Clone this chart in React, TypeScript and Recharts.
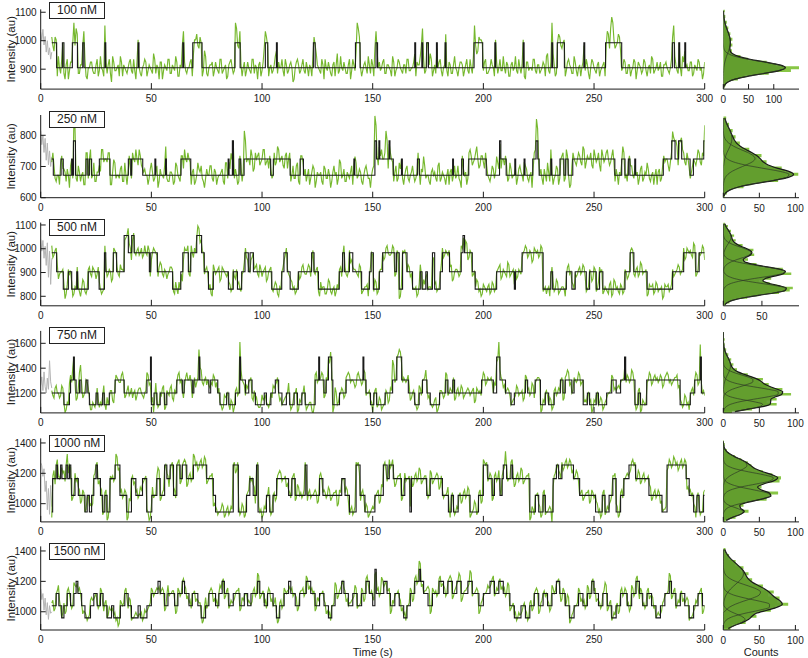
import { ComposedChart, Line, Area, XAxis, YAxis } from "recharts"

const FONT = '"Liberation Sans", Arial, Helvetica, sans-serif'
const INK = "#1a1a1a"
const GREEN = "#76b82e"
const GREY = "#b4b4b4"
const BAR_GREEN = "#88c645"
const FIT_GREEN = "#5f9a2c"
const COMP_LINE = "#2e3a26"

const timeTicks = [0, 50, 100, 150, 200, 250, 300]
const labels = ["100 nM", "250 nM", "500 nM", "750 nM", "1000 nM", "1500 nM"]

// ---------- 100 nM ----------
const r1Domain = [830, 1110]
const r1Ticks = [900, 1000, 1100]
const r1Levels = [905, 993]
const r1Steps: [number, number][] = [
    [5, 1], [7.2, 0], [9.8, 1], [10.5, 0], [14.3, 1], [16.6, 0], [19, 1], [19.6, 0], [29, 1], [29.4, 0],
    [44, 1], [44.4, 0], [64.2, 1], [64.6, 0], [68.7, 1], [72.9, 0], [87.8, 1], [90.1, 0], [101.5, 1], [102.6, 0],
    [106.5, 1], [106.9, 0], [123.2, 1], [124, 0], [142.2, 1], [144.3, 0], [151.5, 1], [152.2, 0], [169, 1], [169.4, 0],
    [172.2, 1], [172.6, 0], [174.4, 1], [175.2, 0], [178.8, 1], [179.2, 0], [182.7, 1], [183.1, 0], [195.8, 1], [199.7, 0],
    [205.2, 1], [205.6, 0], [218, 1], [218.4, 0], [230.9, 1], [231.3, 0], [233.4, 1], [236.6, 0], [245.4, 1], [245.8, 0],
    [255.2, 1], [262.5, 0], [285.4, 1], [286.3, 0], [288.3, 1], [288.7, 0], [291, 1], [291.4, 0], [300, 0],
]
const r1Grey = [1030, 1000, 1040, 985, 1015, 960, 1000, 950, 975, 935, 960]
// noise on whole seconds (t = 5, 6, ...) and half seconds (t = 5.5, 6.5, ...), in units of the row's noise unit
const r1Noise = [
    2, -3, 1, 4, -2, 0, -4, 3, -1, 2, 7, 5, -2, 1, -1, 3, -4, 0, 2, -2,
    1, -3, 4, -1, 6, -2, 3, -5, 2, -1, 1, 4, -3, 0, -2, 2, -1, 3, -4, 1,
    -2, 0, 3, -3, 1, -1, 5, -2, 0, 2, -4, 1, -1, 3, -2, 0, 4, -3, 1, 8,
    2, -2, 0, 3, -4, 1, -1, 2, -3, 6, -2, 0, 1, -3, 2, -1, 3, -2, 0, -4,
    1, 3, -2, 7, -1, 4, -3, 2, -1, 0, -2, 3, 1, -4, 2, -1, 7, 2, -3, 1,
    -1, 4, -2, 0, 3, -3, 1, -1, 2, -5, 0, 3, -2, 1, -1, 2, -3, 0, 4, 8,
    1, -1, 3, -4, 0, 2, -2, 1, -3, 5, -1, 0, 2, -2, 1, -4, 3, -1, 7, 2,
    -3, 1, 0, 4, -2, 1, 7, -3, 2, 0, 3, -2, 1, -1, 4, -3, 0, 2, -1, 1,
    -2, 3, -1, 0, -4, 2, 1, 8, 3, -1, 0, 5, -3, 1, -2, 2, -1, 0, 3, -3,
    1, -2, 4, -1, 0, 2, -3, 1, -1, 3, -2, 6, -4, 2, 1, -1, 3, -2, 0, 1,
    -3, 2, 0, -1, 4, -2, 1, -3, 2, 0, -1, 3, -2, 1, -4, 2, 0, -1, 3, -2,
    1, -1, 2, -3, 5, -2, 7, 1, -2, 3, -1, 0, -3, 2, 1, -2, 4, -1, 0, -3,
    2, -1, 1, -4, 3, 0, -2, 2, -1, 1, -3, 4, -2, 9, 1, -1, 3, -3, 0, 2,
    -2, 1, -1, 3, -4, 2, 0, -1, 2, -3, 1, 4, -2, 0, -1, 2, -3, 1, 0, -2,
    3, 6, 1, -2, 0, 4, -3, 1, -1, 2, -2, 0, 3, -1, -4, 2, 1, -2, 0, 1,
]
const r1NoiseHalf = [
    -1, 2, -3, 0, 3, -2, 1, -4, 2, 0, -1, 3, -2, 1, 4, -3, 0, 2, -1, -2,
    3, -1, 0, -3, 2, 1, -2, 4, -1, 0, -3, 2, 1, -1, 0, 3, -2, -1, 2, 0,
    -3, 1, 2, -1, 0, -2, 3, 1, -4, 2, -1, 0, 3, -2, 1, -1, 2, -3, 0, 4,
    -1, 0, 2, -3, 1, 3, -2, 0, -1, 4, -3, 1, 2, -1, 0, -2, 3, -1, 1, -3,
    2, 0, -1, 5, -2, 1, 0, -3, 2, -1, 3, -2, 0, 1, -3, 2, 4, -1, 0, -2,
    1, -3, 2, 0, -1, 3, -2, 1, 0, -4, 2, 1, -1, 3, -2, 0, 1, -3, 2, 5,
    0, -2, 1, 3, -1, 0, -3, 2, 1, -2, 4, -1, 0, -2, 3, -1, 1, -3, 5, 0,
    -1, 2, -2, 1, 3, -3, 4, 0, -1, 2, -2, 1, 0, -3, 2, -1, 3, 0, -2, 1,
    3, -1, 0, 2, -3, 1, 4, 5, -2, 0, 1, 3, -1, -2, 0, 3, -3, 1, -1, 2,
    -2, 1, 0, -3, 2, 1, -1, 3, -2, 0, 4, -1, -3, 1, 0, 2, -2, -1, 3, 0,
    1, -2, 3, -1, 0, 2, -3, 1, -1, 4, -2, 0, 1, -3, 2, -1, 0, 3, -1, 1,
    -2, 0, 1, 4, -1, 2, 5, -3, 0, 2, -2, 1, -1, 3, 0, -2, 2, -3, 1, 0,
    -1, 3, -2, 0, 2, -1, 1, -3, 0, 2, -1, 3, 5, 7, -2, 0, 2, -1, 3, -2,
    1, -3, 0, 2, -1, 1, -2, 3, -1, 0, -2, 3, -1, 2, 0, -3, 1, 2, -1, 0,
    2, 4, -1, 0, -3, 2, 0, -1, 2, -3, 1, -1, 2, 0, -2, 1, 3, -1, 0, 2,
]
const r1Counts = [2, 5, 6, 29, 42, 90, 134, 151, 104, 86, 49, 34, 15, 17, 11, 18, 12, 18, 10, 14, 7, 10, 4, 7, 2, 4, 1, 3]
const r1Comps = [
    [0.8, 2.9, 9.3, 23.3, 48.3, 80.8, 110, 122, 110, 80.8, 48.3, 23.3, 9.3, 2.9, 0.8, 0.2, 0, 0, 0, 0, 0, 0, 0, 0, 0, 0, 0, 0],
    [0, 0, 0, 0.1, 0.2, 0.3, 0.6, 1.1, 1.9, 3, 4.6, 6.4, 8.5, 10.6, 12.3, 13.6, 14, 13.6, 12.3, 10.6, 8.5, 6.4, 4.6, 3, 1.9, 1.1, 0.6, 0.3],
]

// ---------- 250 nM ----------
const r2Domain = [600, 865]
const r2Ticks = [600, 700, 800]
const r2Levels = [672, 724, 782]
const r2Steps: [number, number][] = [
    [5, 1], [5.7, 0], [9.2, 1], [10.2, 0], [14, 1], [14.5, 0], [14.8, 2], [15.7, 0], [20.5, 1], [21.3, 0],
    [22, 1], [23, 0], [26.5, 1], [31.3, 0], [39.6, 1], [40.7, 0], [41.1, 1], [46.1, 0], [51.6, 1], [52, 0],
    [56.4, 1], [56.8, 0], [63.4, 1], [67.8, 0], [84.7, 1], [85.1, 0], [86.6, 2], [87.1, 0], [89.6, 1], [90.4, 0],
    [91.9, 1], [103.9, 0], [105.1, 1], [112.7, 0], [117.2, 1], [118.7, 0], [141.5, 1], [141.9, 0], [151, 2], [151.7, 1],
    [152.8, 2], [153.2, 1], [157.4, 2], [157.8, 1], [159.3, 0], [163, 1], [163.4, 0], [170.2, 1], [171.1, 0], [186.1, 1],
    [186.5, 0], [190.2, 1], [191, 0], [193.4, 1], [201.3, 0], [207.3, 2], [207.9, 1], [210.3, 0], [214.2, 1], [214.6, 0],
    [218.4, 1], [218.8, 0], [222.3, 1], [223.8, 2], [224.6, 1], [225.2, 0], [230.5, 1], [230.9, 0], [234.6, 1], [236.4, 0],
    [237.2, 1], [238.3, 0], [240.4, 1], [259.4, 0], [262.5, 1], [264, 0], [265.5, 1], [266.2, 0], [268.4, 1], [268.8, 0],
    [281.3, 1], [285.1, 2], [286.6, 1], [288.2, 2], [289.6, 1], [293.4, 0], [294.9, 1], [299.6, 2], [300, 2],
]
const r2Grey = [815, 770, 800, 745, 790, 720, 775, 705, 750, 700, 730]
const r2Noise = [
    -1, 3, -2, 0, 4, -3, 1, 2, -4, 0, 6, -1, 3, -2, 1, -3, 2, 0, -1, 4,
    -2, 1, -4, 3, 0, -1, 2, -3, 5, -1, 0, 2, -2, 4, -3, 1, -1, 0, 3, -2,
    1, -3, 2, 0, -1, 4, -2, 1, -4, 2, 0, 3, -1, -2, 1, -3, 4, 0, -2, 1,
    3, -1, 0, -3, 2, -2, 4, 1, -1, -4, 2, 0, 3, -2, 1, -1, 0, 2, -3, 4,
    -1, 7, 0, 2, -3, 1, -2, 9, -1, 0, 3, -4, 2, 1, -2, 0, 3, -1, -3, 2,
    0, -2, 4, -1, 1, -3, 2, 0, -2, 3, -1, 4, -3, 1, 0, -2, 2, -1, 3, -4,
    1, 0, -2, 3, -1, 2, -4, 1, 0, -3, 5, -1, 2, -2, 0, 1, -3, 6, -1, 2,
    -2, 0, 3, -1, -4, 2, 8, 1, -2, 3, 0, 9, -3, 2, -1, 1, -2, 4, 0, -3,
    2, -1, 0, 3, -2, 1, -4, 2, 6, -1, 0, -3, 2, 1, -2, 4, -1, 0, -3, 2,
    1, -2, 3, 0, -1, -4, 2, 1, -1, 3, -2, 0, 4, -3, 1, -1, 2, 0, -2, 3,
    -1, 6, 2, -3, 0, 1, -2, 4, -1, 0, -3, 2, 1, -2, 3, -1, 0, -4, 2, 7,
    -1, 2, -3, 0, 4, -2, 1, -1, 3, -3, 0, 2, -1, 1, -4, 3, 0, -2, 2, -1,
    4, -3, 1, 0, -2, 3, -1, 2, -4, 1, 0, 3, -2, 1, -1, 2, -3, 0, 4, -1,
    -2, 1, 3, -1, 0, -3, 2, -2, 1, 4, -1, 0, -3, 2, 1, -2, 3, -1, 0, -4,
    2, 1, 6, -2, 0, 3, -1, 2, -3, 1, 0, -2, 3, -1, 2, 5, -2, 0, 1, -1,
]
const r2NoiseHalf = [
    2, -1, 0, -3, 1, 2, -2, 0, 3, -1, 4, -2, 1, 0, -3, 2, -1, 3, 0, -2,
    1, -2, 3, -1, 0, 2, -3, 1, 4, 0, -1, 3, -2, 0, 1, -3, 2, -1, 0, 3,
    -2, 1, 0, -3, 2, 1, -1, 3, -2, 0, -1, 4, -2, 1, 0, -2, 3, -1, 1, -3,
    0, 2, -1, 1, -3, 0, 2, 3, -2, -1, 0, 3, -1, 2, -3, 0, 1, -2, 4, -1,
    2, 5, -1, 0, -2, 3, 1, 6, 0, -2, 1, -3, 0, 2, -1, 3, -2, 0, 1, -1,
    2, -1, 3, 0, -2, 1, -3, 2, 0, -1, 3, -2, 1, -1, 2, 0, -3, 1, 2, -2,
    0, 1, -3, 2, -1, 0, -2, 3, 1, -1, 4, 0, -2, 1, -1, 3, -2, 4, 0, 1,
    -3, 2, 1, -1, 0, 3, 5, -2, 1, 0, 2, 6, -1, 0, -2, 3, -1, 2, -1, 0,
    3, -2, 1, 0, -1, 2, -3, 1, 3, 0, -2, 1, 0, -1, 3, -2, 1, -1, 0, -3,
    2, 0, -1, 3, -2, 1, 0, -3, 2, 1, -1, 2, 0, -2, 1, -3, 3, -1, 0, 2,
    1, 4, -1, 0, -2, 3, -1, 2, 0, -3, -1, 3, 0, -1, 2, -2, 1, -3, 3, 4,
    0, -1, 2, -2, 1, 3, -3, 0, 2, -1, 1, -2, 3, 0, -3, 2, -1, 0, 1, -2,
    3, -1, 0, 2, -3, 1, 0, -2, 3, -1, 2, 0, -1, 3, -2, 0, 1, -1, 2, 0,
    -1, 3, 0, -2, 1, -1, 3, -1, 0, 2, -2, 1, 0, -3, 2, -1, 1, 0, -2, -1,
    3, 0, 4, -1, 1, 2, -2, 0, -1, 3, -1, 0, 2, -2, 1, 3, -1, 2, 0, 1,
]
const r2Counts = [2, 5, 7, 28, 39, 76, 86, 104, 85, 81, 56, 60, 47, 53, 34, 36, 20, 23, 12, 17, 9, 13, 5, 8, 2, 4]
const r2Comps = [
    [0.9, 3.2, 9.5, 22.4, 43.3, 68.3, 87.4, 91.1, 77.3, 53.1, 29.9, 13.6, 5.1, 1.5, 0.4, 0, 0, 0, 0, 0, 0, 0, 0, 0, 0, 0],
    [0, 0, 0, 0, 0.3, 1.1, 2.8, 6.4, 12.6, 21.6, 31.7, 40.3, 44, 41.3, 33.7, 23.5, 14.3, 7.5, 3.4, 1.3, 0.4, 0.1, 0, 0, 0, 0],
    [0, 0, 0, 0, 0, 0, 0, 0, 0, 0, 0.6, 1.2, 2.1, 3.5, 5.2, 7.3, 9.3, 10.9, 11.9, 11.9, 10.9, 9.3, 7.3, 5.2, 3.5, 2.1],
]

// ---------- 500 nM ----------
const r3Domain = [760, 1110]
const r3Ticks = [800, 900, 1000, 1100]
const r3Levels = [830, 903, 983, 1056]
const r3Steps: [number, number][] = [
    [5, 2], [7.2, 1], [10.2, 0], [12.5, 1], [14, 0], [16.3, 1], [16.7, 0], [21.5, 1], [26.4, 0], [28.8, 2],
    [29.4, 1], [32.8, 2], [34.3, 1], [37.7, 3], [39.6, 2], [41.1, 3], [42.2, 2], [49.1, 1], [49.7, 2], [52.7, 1],
    [59.6, 0], [63.3, 1], [64.2, 2], [66.7, 1], [67.8, 2], [70.5, 3], [72.7, 2], [73.9, 1], [75.8, 0], [78, 1],
    [84.8, 0], [87, 1], [88.9, 0], [90.8, 1], [92.3, 2], [93.8, 1], [94.6, 2], [96.1, 1], [104.4, 0], [108.9, 1],
    [109.9, 2], [111.4, 1], [112.7, 0], [116.4, 1], [122.4, 2], [123.5, 1], [125.5, 0], [134.9, 1], [136.4, 2], [137.2, 1],
    [139.5, 2], [141, 1], [145, 0], [148.5, 1], [149.3, 2], [150.3, 0], [153, 1], [154.5, 2], [160, 1], [160.8, 2],
    [162, 0], [163.5, 2], [165.5, 1], [168, 0], [171.5, 1], [172.3, 0], [174, 1], [174.7, 0], [177, 2], [178, 0],
    [180.5, 1], [181.5, 2], [184.7, 1], [190, 2], [190.8, 3], [191.5, 2], [195, 1], [196.3, 0], [206, 1], [214, 0],
    [214.5, 1], [217.5, 2], [227, 0], [230.5, 1], [231.3, 0], [237.5, 1], [240, 0], [241.5, 1], [246.5, 0], [248, 1],
    [251, 0], [252.5, 1], [254, 0], [264, 1], [266.3, 2], [268, 1], [274, 0], [285.5, 1], [290.5, 2], [296, 1],
    [297.5, 2], [300, 2],
]
const r3Grey = [1040, 990, 1035, 960, 1010, 930, 1025, 880, 990, 850, 960]
const r3Noise = [
    3, -1, 2, -3, 0, 1, -4, 2, -1, 3, -2, 0, 1, -3, 4, -1, 0, 2, -2, 1,
    -3, 2, 0, -1, 3, -2, 1, -4, 2, 0, -1, 3, 1, -2, 0, 4, -3, 1, -1, 2,
    0, -2, 3, -1, 1, -3, 2, 0, -2, 4, -1, 1, -3, 0, 2, -1, 3, -2, 0, -4,
    2, 1, -1, 3, -2, 0, 4, -3, 1, -1, 2, 0, -2, 3, -1, 1, -4, 2, 0, -2,
    3, -1, 1, -3, 2, 0, -1, 4, -2, 1, -3, 0, 2, -1, 3, -2, 1, -4, 0, 2,
    -1, 3, -2, 1, 0, -3, 2, -1, 4, 0, -2, 1, -3, 2, 0, -1, 3, -2, 1, -1,
    2, -3, 0, 1, -2, 4, -1, 0, -3, 2, 1, -2, 3, -1, 0, -4, 2, 1, -1, 3,
    -2, 0, 1, -3, 2, -1, 4, -2, 0, 1, -3, 2, 0, -1, 3, -2, 1, -4, 2, 0,
    -1, 3, -2, 1, 0, -3, 2, -1, 4, -2, 0, 1, -3, 2, -1, 0, 3, -2, 1, -1,
    2, -4, 0, 1, -2, 3, -1, 5, -3, 1, -2, 0, 4, -1, -3, 2, 0, 1, -2, 3,
    -1, 0, 2, -3, 1, -1, 4, -2, 0, 2, -3, 1, -1, 0, 3, -2, 1, -4, 2, 0,
    -2, 3, -1, 1, 0, -3, 2, -1, 4, -2, 0, 1, -3, 2, -1, 3, 0, -2, 1, -1,
    3, -2, 0, 1, -4, 2, -1, 3, 0, -2, 1, -1, 2, -3, 4, 0, -1, 2, -2, 1,
    -3, 0, 2, -1, 1, -2, 4, -1, 0, -3, 2, 1, -2, 3, -1, 0, -4, 2, 1, -1,
    2, -2, 0, 3, -1, 1, -3, 2, 0, -1, 4, -2, 1, -1, 3, -3, 0, 2, -1, 1,
]
const r3NoiseHalf = [
    -2, 1, 3, -1, 0, 2, -2, 1, 0, -3, 1, 2, -1, 0, 3, -2, 1, -1, 2, 0,
    -1, 3, -2, 0, 2, -1, 0, -3, 1, 2, -2, 1, 0, -1, 3, 2, -2, 0, 1, -1,
    2, -1, 0, 3, -2, 0, 1, -1, 2, 3, -2, 0, -1, 2, 1, -2, 0, 3, -1, -3,
    1, 3, -2, 0, 2, -1, 3, -2, 0, 1, -1, 2, -3, 1, 0, 2, -3, 1, -1, 0,
    2, 0, -2, 1, 3, -1, 0, 2, -3, 0, -2, 1, 3, -2, 1, 0, 2, -3, 1, 0,
    1, 2, -3, 0, 2, -1, 1, -2, 3, 1, -1, 0, -2, 3, -1, 1, 2, -3, 0, 1,
    -1, 3, 1, -2, 0, 3, -2, 1, -1, 0, 2, -1, 2, -2, 1, -3, 1, 0, -2, 2,
    -1, 1, 2, -2, 0, -1, 3, -1, 1, 0, -2, 3, -1, 0, 2, -1, 0, -3, 1, 1,
    0, 2, -1, 0, 1, -2, 3, 0, 2, -1, 1, 0, -2, 3, 0, -1, 2, -1, 0, 1,
    3, -3, 1, 0, -1, 2, 0, 4, -2, 0, -1, 1, 3, 0, -2, 1, -1, 2, -1, 2,
    0, 1, 3, -2, 0, -2, 3, -1, 1, 1, -2, 0, -2, 1, 2, -1, 0, -3, 1, 1,
    -1, 2, 0, -2, 1, -2, 3, 0, 3, -1, 1, 0, -2, 3, 0, 2, -1, -1, 2, 0,
    2, -1, 1, 0, -3, 1, 0, 2, 1, -1, 0, -2, 3, -2, 3, 1, -2, 1, -1, 0,
    -2, 1, 1, -2, 2, -1, 3, 0, 1, -2, 1, 2, -1, 2, 0, 1, -3, 1, 2, 0,
    1, -1, 1, 2, 0, 2, -2, 1, 1, -2, 3, -1, 0, 0, 2, -2, 1, 1, 0, 2,
]
const r3Counts = [3, 8, 12, 31, 46, 72, 86, 90, 70, 60, 46, 62, 60, 88, 76, 77, 48, 43, 24, 32, 25, 40, 33, 39, 22, 25, 11, 16, 8, 14, 6, 10, 4, 6, 2]
const r3Comps = [
    [2.1, 6, 14.1, 28.3, 47.6, 67.5, 80.2, 80.2, 67.5, 47.6, 28.3, 14.1, 6, 2.1, 0.6, 0.1, 0, 0, 0, 0, 0, 0, 0, 0, 0, 0, 0, 0, 0, 0, 0, 0, 0, 0, 0],
    [0, 0, 0, 0, 0, 0, 0, 1.4, 4.3, 10.8, 23, 40.4, 60.4, 75.7, 79.7, 70.6, 52.4, 33, 17.3, 7.6, 2.9, 0.9, 0.2, 0, 0, 0, 0, 0, 0, 0, 0, 0, 0, 0, 0],
    [0, 0, 0, 0, 0, 0, 0, 0, 0, 0, 0, 0, 0, 0, 0.2, 0.7, 1.9, 4.9, 10.3, 18.2, 27.2, 34.1, 35.9, 31.8, 23.6, 14.8, 7.8, 3.4, 1.3, 0.4, 0, 0, 0, 0, 0],
    [0, 0, 0, 0, 0, 0, 0, 0, 0, 0, 0, 0, 0, 0, 0, 0, 0, 0, 0, 0, 0.2, 0.4, 1, 1.9, 3.3, 5.1, 7.1, 8.8, 9.9, 9.9, 8.8, 7.1, 5.1, 3.3, 1.9],
]

// ---------- 750 nM ----------
const r4Domain = [1040, 1700]
const r4Ticks = [1200, 1400, 1600]
const r4Levels = [1105, 1200, 1305, 1490]
const r4Steps: [number, number][] = [
    [5, 1], [10.5, 0], [13, 1], [13.5, 2], [14.8, 3], [15.2, 2], [16, 1], [17.5, 2], [18.2, 1], [20.5, 2],
    [21.3, 1], [22, 0], [25, 1], [25.8, 0], [28, 1], [28.7, 0], [31, 1], [33.6, 2], [37.7, 1], [48, 2],
    [49.6, 3], [50, 0], [51.2, 1], [52.5, 0], [54, 1], [56, 0], [57, 1], [61.5, 2], [64, 1], [64.8, 2],
    [68.5, 1], [69.2, 2], [71.5, 3], [71.9, 2], [76, 1], [76.8, 2], [80, 1], [81, 0], [84, 1], [85, 0],
    [88, 1], [89.9, 3], [90.3, 2], [92.5, 1], [94, 2], [95.5, 1], [97, 0], [101, 1], [102, 0], [104, 1],
    [106, 2], [107.5, 1], [109, 0], [111, 1], [112.5, 0], [114.5, 1], [116, 0], [118, 1], [119.5, 0], [124, 2],
    [125.6, 3], [126, 2], [128, 1], [129, 2], [130, 3], [131.5, 2], [132, 0], [135, 1], [138, 2], [145.6, 3],
    [146, 2], [147, 1], [149, 0], [150.5, 1], [151.8, 0], [155.6, 1], [159, 2], [160.9, 3], [163.1, 2], [166.1, 1],
    [169, 0], [171, 1], [172.5, 2], [174.5, 1], [176, 0], [180.2, 1], [183, 2], [184, 1], [186.2, 2], [187, 1],
    [199.2, 2], [204.5, 1], [206, 3], [207.5, 2], [210, 1], [212.5, 0], [214, 1], [219, 2], [220, 1], [223.4, 2],
    [225.8, 0], [228, 1], [229.5, 0], [232, 1], [234.8, 2], [236, 1], [237, 2], [240, 1], [241, 2], [245.1, 0],
    [247, 1], [248, 0], [251, 1], [252, 0], [255.7, 1], [258, 2], [260, 1], [262, 2], [263.8, 3], [264.3, 2],
    [268.5, 0], [270, 1], [271, 0], [273.8, 2], [288.9, 0], [293.5, 1], [295.5, 2], [298, 3], [298.5, 1], [300, 1],
]
const r4Grey = [1260, 1330, 1220, 1370, 1250, 1200, 1320, 1230, 1460, 1290, 1240]
const r4Noise = [
    1, -2, 3, 0, -1, 2, -3, 1, 4, -1, 0, -3, 2, 6, -2, 1, -1, 3, -2, 0,
    -3, 2, 1, -1, 0, 3, -2, 1, -4, 2, 0, -1, 3, -2, 1, -1, 2, 0, -3, 1,
    2, -1, 0, 3, -2, 1, -3, 4, -1, 0, 2, -2, 1, -1, 3, -3, 0, 2, -1, 1,
    -2, 3, 0, -1, 2, -3, 1, 5, -1, 0, -2, 3, -1, 2, -3, 0, 1, -2, 4, -1,
    0, 2, -3, 1, -1, 6, 0, -2, 3, -1, 1, -3, 2, 0, -1, 4, -2, 1, -1, 0,
    3, -2, 1, -3, 0, 2, -1, 4, -2, 1, 0, -3, 2, -1, 3, -2, 0, 1, -4, 2,
    -1, 0, 3, -2, 1, -1, 2, -3, 7, 0, -1, 2, -2, 1, 3, -1, 0, -3, 2, 1,
    -2, 4, -1, 0, 2, -3, 1, -1, 3, -2, 0, 1, -4, 2, 8, -1, 0, 3, -2, 1,
    -1, 2, -3, 0, 1, -2, 3, -1, 0, 4, -2, 1, -1, 2, -3, 0, 1, -2, 3, -1,
    2, 0, -3, 1, -1, 3, -2, 0, 2, -1, 1, -4, 2, 0, -1, 3, -2, 1, 0, -1,
    4, -2, 6, 1, -3, 0, 2, -1, 1, -2, 3, -1, 0, -3, 2, 1, -1, 4, -2, 0,
    1, -3, 2, 0, -1, 3, -2, 1, -1, 2, 0, -3, 1, 4, -2, 0, 1, -1, 3, -2,
    0, 2, -1, 1, -3, 2, -1, 0, 3, -2, 1, -1, 0, 2, -4, 1, 3, -1, 0, -2,
    2, -1, 4, 0, -2, 1, -3, 2, 0, -1, 3, -2, 1, 0, -1, 2, -3, 1, 3, -1,
    -2, 0, 1, -3, 2, -1, 4, 0, -2, 1, -1, 3, -2, 5, 0, -1, 2, -3, 1, 0,
]
const r4NoiseHalf = [
    -1, 2, 0, -2, 3, 1, -2, 0, 2, 5, -1, -2, 3, 4, -1, 0, 2, -2, 1, -1,
    2, -1, 0, 3, -2, 0, 1, -3, 2, 1, -1, 2, 0, -1, 3, 0, -2, 1, -1, 2,
    0, -2, 1, 2, -1, 3, -2, 2, 0, -1, 3, -1, 0, 2, -2, 1, -1, 3, 0, -2,
    1, 0, 2, -2, 1, -1, 3, 4, -2, 1, 0, 2, -2, 1, -1, 2, 0, -1, 3, 0,
    -2, 1, -1, 2, 0, 4, -1, -1, 2, 0, -2, 1, 3, -1, 0, 2, -1, 0, 1, -2,
    2, -1, 0, -2, 1, 3, 0, 2, -1, 0, 2, -2, 1, 0, 2, -1, 1, -2, -1, 3,
    0, 1, 2, -1, 0, -2, 3, -1, 5, 1, 0, 1, -1, 2, 2, 0, -1, -2, 3, 0,
    -1, 3, 0, 1, 1, -2, 2, 0, 2, -1, 1, 0, -3, 1, 6, 0, 1, 2, -1, 0,
    0, 3, -2, 1, 0, -1, 2, 0, 1, 3, -1, 0, 0, 3, -2, 1, 0, -1, 2, 0,
    1, 1, -2, 2, 0, 2, -1, 1, 1, 0, 2, -3, 1, 1, 0, 2, -1, 0, 1, 0,
    3, -1, 4, 0, -2, 1, 1, 0, 2, -1, 2, 0, 1, -2, 1, 2, 0, 3, -1, 1,
    0, -2, 1, 1, 0, 2, -1, 2, 0, 1, 1, -2, 2, 3, -1, 1, 0, 0, 2, -1,
    1, 1, 0, 2, -2, 1, 0, 1, 2, -1, 2, 0, 1, 1, -3, 2, 2, 0, 1, -1,
    1, 0, 3, 1, -1, 2, -2, 1, 1, 0, 2, -1, 2, 1, 0, 1, -2, 2, 2, 0,
    -1, 1, 2, -2, 1, 0, 3, 1, -1, 2, 0, 2, -1, 4, 1, 0, 1, -2, 2, 1,
]
const r4Counts = [12, 40, 50, 74, 60, 74, 68, 94, 78, 82, 60, 63, 49, 55, 34, 34, 17, 19, 9, 14, 7, 11, 4, 7, 2, 4, 1, 2, 0, 2, 0, 1, 0]
const r4Comps = [
    [16, 33.4, 50.2, 54.5, 42.6, 23.9, 9.7, 2.9, 0.6, 0.1, 0, 0, 0, 0, 0, 0, 0, 0, 0, 0, 0, 0, 0, 0, 0, 0, 0, 0, 0, 0, 0, 0, 0],
    [0.3, 1.2, 4, 10.5, 23.1, 42.1, 62.4, 76.1, 76.1, 62.4, 42.1, 23.1, 10.5, 4, 1.2, 0.3, 0, 0, 0, 0, 0, 0, 0, 0, 0, 0, 0, 0, 0, 0, 0, 0, 0],
    [0, 0, 0, 0, 0, 0, 0.6, 2.1, 5.7, 12.4, 22.7, 33.6, 41, 41, 33.6, 22.7, 12.4, 5.7, 2.1, 0.6, 0.2, 0, 0, 0, 0, 0, 0, 0, 0, 0, 0, 0, 0],
    [0, 0, 0, 0, 0, 0, 0, 0, 0, 0, 0.5, 1, 1.8, 2.9, 4.4, 6.1, 7.8, 9.1, 9.9, 9.9, 9.1, 7.8, 6.1, 4.4, 2.9, 1.8, 1, 0.5, 0.3, 0.1, 0, 0, 0],
]

// ---------- 1000 nM ----------
const r5Domain = [880, 1430]
const r5Ticks = [1000, 1200, 1400]
const r5Levels = [945, 1055, 1165, 1255]
const r5Steps: [number, number][] = [
    [5, 0], [5.4, 2], [7, 3], [7.6, 2], [9, 3], [9.6, 2], [11.5, 3], [12.2, 2], [13, 3], [13.6, 2],
    [14, 1], [15.5, 2], [17, 1], [20, 0], [21, 1], [22, 0], [23, 1], [24, 2], [25, 3], [25.6, 2],
    [27, 1], [28, 0], [29, 1], [30, 0], [31.3, 2], [33.6, 3], [35.8, 1], [38.9, 0], [41, 2], [43, 1],
    [46, 2], [47.9, 0], [50.2, 1], [52.5, 2], [54, 1], [56, 3], [57, 2], [58.5, 3], [60, 1], [61.5, 3],
    [63, 2], [64, 3], [66, 2], [69, 3], [75, 2], [78, 1], [79, 0], [87, 3], [89.3, 0], [93, 1],
    [94.5, 2], [96, 1], [97.5, 3], [98.2, 0], [102, 1], [103.5, 0], [105, 1], [106.6, 2], [112, 1], [113.5, 2],
    [115, 1], [119.5, 3], [120.3, 1], [126, 2], [127.5, 1], [136, 2], [137.5, 1], [139.5, 0], [142.5, 3], [144.3, 1],
    [146.5, 0], [151, 1], [154.8, 3], [156.5, 2], [157.5, 3], [159.3, 2], [163, 1], [164.5, 2], [166.8, 0], [167.5, 2],
    [174.4, 1], [176, 2], [181.5, 1], [184.2, 0], [185.5, 1], [186.5, 0], [188.6, 1], [194, 0], [197.8, 1], [200, 3],
    [202, 2], [204, 1], [205, 2], [207.5, 1], [208.5, 2], [209, 3], [210.5, 2], [212.5, 3], [213.2, 2], [221, 0],
    [223.5, 1], [225, 0], [227, 1], [228, 0], [231.5, 2], [233, 3], [234, 2], [235.5, 3], [240.7, 2], [243.5, 1],
    [250.7, 0], [253.7, 1], [255, 0], [256.8, 1], [258.5, 2], [260, 0], [262, 1], [263.5, 2], [265.8, 3], [268.8, 2],
    [274.8, 1], [280.7, 0], [283, 3], [291.6, 2], [293, 1], [295, 0], [296.5, 1], [297.5, 0], [299.5, 1], [300, 1],
]
const r5Grey = [1270, 1250, 1180, 1230, 1080, 1150, 960, 1100, 930, 1120, 980]
const r5Noise = [
    -2, 3, 0, 1, -3, 2, -1, 4, 0, -2, 1, -1, 3, -3, 2, 0, -1, 2, -4, 1,
    0, -2, 3, -1, 1, -3, 2, 0, -1, 4, -2, 1, -1, 2, -3, 5, 0, -2, 1, -1,
    3, -2, 0, 1, -3, 2, -1, 0, 4, -2, 1, -1, 2, -3, 0, 3, -1, 1, -2, 0,
    2, -3, 1, -1, 4, 0, -2, 1, -1, 3, -2, 0, 1, -4, 2, -1, 0, 3, -2, 1,
    -1, 2, 0, -3, 1, -1, 3, -2, 0, 2, -1, 4, -3, 1, 0, -2, 2, -1, 3, -1,
    0, -2, 1, 3, -1, 0, -3, 2, -1, 1, -2, 4, 0, -1, 2, -3, 1, -1, 0, 2,
    -3, 1, 0, 2, -1, 3, -2, 0, 1, -4, 2, -1, 0, 3, -2, 1, -1, 2, 0, -3,
    1, -1, 3, -2, 0, 2, -1, 1, -3, 4, 0, -2, 1, -1, 2, -3, 0, 1, -2, 3,
    -1, 0, 2, -3, 1, -1, 4, -2, 0, 1, -1, 3, -2, 0, 2, -4, 1, -1, 0, 3,
    -2, 1, -1, 2, 0, -3, 1, -1, 3, -2, 0, 4, -1, 1, -3, 2, 0, -1, 2, -2,
    1, -1, 3, 0, -2, 5, -1, 0, 2, -3, 1, -1, 4, -2, 0, 1, -3, 2, -1, 0,
    3, -2, 1, -1, 0, 2, -4, 1, -1, 3, 0, -2, 1, -1, 2, -3, 0, 3, -1, 1,
    -2, 0, 1, -3, 2, -1, 4, 0, -2, 1, -1, 2, -3, 0, 1, 3, -2, 1, -1, 0,
    2, -3, 1, 0, -1, 3, -2, 1, -1, 0, 4, -2, 1, -1, 2, -3, 0, 1, -2, 2,
    -1, 3, 0, -2, 1, -1, 2, -4, 1, 0, 3, -2, 1, -1, 0, 2, -3, 1, 0, -1,
]
const r5NoiseHalf = [
    1, -2, 2, 0, -1, 3, 0, 2, -1, -1, 2, 0, 2, -2, 1, 1, 0, 3, -3, 2,
    1, -1, 2, 0, 2, -2, 1, 1, 0, 3, -1, 2, 0, 1, -2, 4, 1, -1, 2, 0,
    2, -1, 1, 0, -2, 3, 0, 1, 3, -1, 2, 0, 1, -2, 1, 2, 0, 2, -1, 1,
    1, -2, 2, 0, 3, 1, -1, 2, 0, 2, -1, 1, 2, -3, 1, 0, 1, 2, -1, 2,
    0, 1, 1, -2, 2, 0, 2, -1, 1, 1, 0, 3, -2, 2, 1, -1, 1, 0, 2, 0,
    1, -1, 2, 2, 0, 1, -2, 1, 0, 2, -1, 3, 1, 0, 1, -2, 2, 0, 1, 1,
    -2, 2, 1, 1, 0, 2, -1, 1, 2, -3, 1, 0, 1, 2, -1, 2, 0, 1, 1, -2,
    2, 0, 2, -1, 1, 1, 0, 2, -2, 3, 1, -1, 2, 0, 1, -2, 1, 2, -1, 2,
    0, 1, 1, -2, 2, 0, 3, -1, 1, 2, 0, 2, -1, 1, 1, -3, 2, 0, 1, 2,
    -1, 2, 0, 1, 1, -2, 2, 0, 2, -1, 1, 3, 0, 2, -2, 1, 1, 0, 1, -1,
    2, 0, 2, 1, -1, 4, 0, 1, 1, -2, 2, 0, 3, -1, 1, 2, -2, 1, 0, 1,
    2, -1, 2, 0, 1, 1, -3, 2, 0, 2, 1, -1, 2, 0, 1, -2, 1, 2, 0, 2,
    -1, 1, 2, -2, 1, 0, 3, 1, -1, 2, 0, 1, -2, 1, 2, 2, -1, 2, 0, 1,
    1, -2, 2, 1, 0, 2, -1, 2, 0, 1, 3, -1, 2, 0, 1, -2, 1, 2, -1, 1,
    0, 2, 1, -1, 2, 0, 1, -3, 2, 1, 2, -1, 2, 0, 1, 1, -2, 2, 1, 0,
]
const r5Counts = [3, 17, 21, 35, 20, 28, 30, 60, 62, 76, 49, 53, 50, 78, 80, 68, 55, 43, 39, 34, 25, 16, 8, 5, 1, 2, 1]
const r5Comps = [
    [4.1, 12.8, 24.2, 27.6, 18.8, 7.7, 1.9, 0.3, 0, 0, 0, 0, 0, 0, 0, 0, 0, 0, 0, 0, 0, 0, 0, 0, 0, 0, 0],
    [0, 0, 0, 1.5, 5.3, 15.3, 32.8, 53.1, 65.4, 61.1, 43.2, 23.1, 9.4, 2.9, 0.7, 0, 0, 0, 0, 0, 0, 0, 0, 0, 0, 0, 0],
    [0, 0, 0, 0, 0, 0, 0, 0, 0.7, 3.1, 9.9, 24.5, 45.9, 64.8, 69.4, 56.3, 34.8, 16.2, 5.7, 1.5, 0.3, 0, 0, 0, 0, 0, 0],
    [0, 0, 0, 0, 0, 0, 0, 0, 0, 0, 0, 0, 0.7, 2.2, 5.5, 11.7, 20, 28.2, 32.8, 31.2, 24.4, 15.7, 8.2, 3.6, 1.3, 0.4, 0.1],
]

// ---------- 1500 nM ----------
const r6Domain = [880, 1430]
const r6Ticks = [1000, 1200, 1400]
const r6Levels = [960, 1040, 1120, 1200, 1280]
const r6Steps: [number, number][] = [
    [5, 1], [7, 2], [8.2, 1], [9.5, 0], [10.5, 1], [12, 2], [13.5, 1], [15, 2], [16, 3], [16.8, 2],
    [18.5, 1], [20, 0], [22.5, 1], [24, 2], [25.5, 1], [27, 2], [28.2, 1], [30, 0], [32, 1], [33, 0],
    [36, 1], [38, 2], [39.5, 1], [41, 0], [44, 1], [45, 0], [48, 1], [50, 2], [53, 3], [54, 2],
    [56, 1], [57.5, 2], [60.5, 1], [62, 2], [64, 3], [65, 2], [67, 1], [68.5, 2], [71, 1], [72.5, 0],
    [74.5, 1], [76, 2], [79, 1], [80.5, 2], [82, 3], [83, 2], [85, 1], [87, 2], [90, 1], [92, 2],
    [93.5, 1], [95, 2], [98, 3], [99, 2], [101, 1], [102.5, 2], [105, 1], [106.5, 0], [108, 1], [110, 2],
    [112, 3], [113, 2], [115, 1], [117, 2], [120, 3], [122, 2], [124, 1], [126, 2], [128, 1], [130, 0],
    [131.5, 1], [133, 2], [136, 3], [137, 2], [139, 1], [141, 2], [143, 1], [145, 2], [147, 3], [148.5, 2],
    [150, 1], [151, 4], [151.6, 2], [155, 3], [156.5, 2], [158, 1], [160, 2], [162, 1], [164, 0], [165.5, 1],
    [167, 2], [169, 3], [171, 4], [171.6, 3], [173, 2], [175, 1], [177, 2], [180, 3], [182, 2], [184, 3],
    [186, 2], [188, 3], [190, 2], [193, 3], [195, 2], [198, 1], [200, 2], [203, 3], [205, 2], [207, 3],
    [209, 2], [212, 1], [214, 0], [217, 1], [219, 0], [221, 1], [223, 2], [225, 1], [227, 2], [229, 1],
    [231, 2], [233, 3], [234.5, 2], [237, 1], [239, 0], [241, 1], [243, 2], [245, 1], [247, 2], [249, 3],
    [250, 2], [252, 1], [254, 2], [256, 1], [258, 0], [260, 1], [262, 2], [265, 1], [267, 2], [269, 3],
    [270.5, 2], [272, 1], [274, 2], [276, 1], [278, 0], [280, 1], [282, 2], [284, 3], [285, 2], [287, 1],
    [289, 2], [291, 1], [293, 0], [295, 1], [297, 2], [299, 1], [300, 1],
]
const r6Grey = [1150, 1080, 1120, 1010, 1090, 980, 1060, 950, 1040, 990, 1000]
const r6Noise = [
    1, -2, 0, 3, -1, 2, -3, 1, 0, -1, 4, -2, 1, 0, -3, 2, -1, 1, 3, -2,
    0, -1, 2, -3, 1, 0, 4, -2, 1, -1, -3, 2, 0, 1, -2, 3, -1, 0, 2, -4,
    1, -1, 3, -2, 0, 2, -1, 1, -3, 0, 2, -2, 4, -1, 0, 1, -3, 2, -1, 0,
    3, -2, 1, -1, 0, -3, 2, 1, -2, 4, -1, 0, 2, -3, 1, -1, 3, 0, -2, 1,
    -1, 2, -3, 0, 1, -2, 3, -1, 0, 2, -4, 1, -1, 3, -2, 0, 1, -1, 2, -3,
    0, 3, -2, 1, -1, 2, 0, -3, 1, -1, 4, -2, 0, 1, -1, 2, -3, 1, 0, -2,
    3, -1, 0, 2, -3, 1, -1, 0, 4, -2, 1, -1, 2, -3, 0, 1, -2, 3, -1, 0,
    2, -3, 1, -1, 0, 3, -2, 1, -1, 6, -2, 0, 1, -3, 2, -1, 0, 3, -2, 1,
    -1, 0, 2, -3, 1, -1, 3, -2, 0, 1, 7, -3, 2, 0, -1, 1, -2, 3, -1, 0,
    2, -2, 1, -1, 3, -3, 0, 1, -2, 4, -1, 0, 2, -3, 1, -1, 0, 3, -2, 1,
    -1, 2, 0, -3, 1, -1, 4, -2, 0, 1, -1, 2, -3, 0, 3, -1, 1, -2, 0, 2,
    -3, 1, 0, -1, 2, -2, 3, 0, -1, 1, -3, 2, 0, 4, -2, 1, -1, 0, 2, -3,
    1, -1, 3, -2, 0, 1, -3, 2, -1, 0, 4, -2, 1, -1, 2, 0, -3, 1, -1, 2,
    0, -2, 3, -1, 1, -3, 2, 0, -1, 1, -2, 4, -1, 0, 2, -3, 1, -1, 0, 3,
    -2, 1, -1, 2, 0, -3, 1, 3, -1, 0, -2, 2, -1, 1, -3, 0, 2, -1, 1, 0,
]
const r6NoiseHalf = [
    2, -1, 1, 2, 0, 1, -2, 2, 1, 0, 3, -1, 2, 1, -2, 1, 0, 2, 2, -1,
    1, 0, 1, -2, 2, 1, 3, -1, 2, 0, -2, 1, 1, 2, -1, 2, 0, 1, 1, -3,
    2, 0, 2, -1, 1, 1, 0, 2, -2, 1, 1, -1, 3, 0, 1, 2, -2, 1, 0, 1,
    2, -1, 2, 0, 1, -2, 1, 2, -1, 3, 0, 1, 1, -2, 2, 0, 2, 1, -1, 2,
    0, 1, -2, 1, 2, -1, 2, 0, 1, 1, -3, 2, 0, 2, -1, 1, 2, 0, 1, -2,
    1, 2, -1, 2, 0, 1, 1, -2, 2, 0, 3, -1, 1, 2, 0, 1, -2, 2, 1, -1,
    2, 0, 1, 1, -2, 2, 0, 1, 3, -1, 2, 0, 1, -2, 1, 2, -1, 2, 0, 1,
    1, -2, 2, 0, 1, 2, -1, 2, 0, 5, -1, 1, 2, -2, 1, 0, 1, 2, -1, 2,
    0, 1, 1, -2, 2, 0, 2, -1, 1, 2, 6, -2, 1, 1, 0, 2, -1, 2, 0, 1,
    1, -1, 2, 0, 2, -2, 1, 2, -1, 3, 0, 1, 1, -2, 2, 0, 1, 2, -1, 2,
    0, 1, 1, -2, 2, 0, 3, -1, 1, 2, 0, 1, -2, 1, 2, 0, 2, -1, 1, 1,
    -2, 2, 1, 0, 1, -1, 2, 1, 0, 2, -2, 1, 1, 3, -1, 2, 0, 1, 1, -2,
    2, 0, 2, -1, 1, 2, -2, 1, 0, 1, 3, -1, 2, 0, 1, 1, -2, 2, 0, 1,
    1, -1, 2, 0, 2, -2, 1, 1, 0, 2, -1, 3, 0, 1, 1, -2, 2, 0, 1, 2,
    -1, 2, 0, 1, 1, -2, 2, 2, 0, 1, -1, 1, 0, 2, -2, 1, 1, 0, 2, 1,
]
const r6Counts = [10, 12, 31, 32, 46, 43, 66, 72, 90, 75, 78, 62, 70, 53, 55, 38, 40, 28, 35, 24, 28, 16, 17, 7, 8, 3, 3]
const r6Comps = [
    [7, 15.6, 25.5, 30, 25.5, 15.6, 7, 2.2, 0.5, 0, 0, 0, 0, 0, 0, 0, 0, 0, 0, 0, 0, 0, 0, 0, 0, 0, 0],
    [0, 0, 1.5, 5.3, 14.3, 30.2, 49.8, 64, 64, 49.8, 30.2, 14.3, 5.3, 1.5, 0.4, 0, 0, 0, 0, 0, 0, 0, 0, 0, 0, 0, 0],
    [0, 0, 0, 0, 0, 0, 3.7, 8.5, 16.9, 28.4, 40.7, 49.7, 51.7, 45.9, 34.7, 22.3, 12.3, 5.7, 2.3, 0.8, 0.2, 0, 0, 0, 0, 0, 0],
    [0, 0, 0, 0, 0, 0, 0, 0, 0.5, 1, 2, 3.8, 6.5, 10.1, 14.6, 19.3, 23.8, 26.9, 28, 26.9, 23.8, 19.3, 14.6, 10.1, 6.5, 3.8, 2],
]

interface Row {
    label: string
    domain: number[]
    ticks: number[]
    levels: number[]
    steps: [number, number][]
    grey: number[]
    noise: number[]
    noiseHalf: number[]
    noiseUnit: number
    binStart: number
    binWidth: number
    counts: number[]
    comps: number[][]
    countDomain: number[]
    countTicks: number[]
}

const rows: Row[] = [
    { label: labels[0], domain: r1Domain, ticks: r1Ticks, levels: r1Levels, steps: r1Steps, grey: r1Grey, noise: r1Noise, noiseHalf: r1NoiseHalf, noiseUnit: 10, binStart: 835, binWidth: 10, counts: r1Counts, comps: r1Comps, countDomain: [0, 150], countTicks: [0, 50, 100] },
    { label: labels[1], domain: r2Domain, ticks: r2Ticks, levels: r2Levels, steps: r2Steps, grey: r2Grey, noise: r2Noise, noiseHalf: r2NoiseHalf, noiseUnit: 10, binStart: 605, binWidth: 10, counts: r2Counts, comps: r2Comps, countDomain: [0, 105], countTicks: [0, 50, 100] },
    { label: labels[2], domain: r3Domain, ticks: r3Ticks, levels: r3Levels, steps: r3Steps, grey: r3Grey, noise: r3Noise, noiseHalf: r3NoiseHalf, noiseUnit: 10, binStart: 765, binWidth: 10, counts: r3Counts, comps: r3Comps, countDomain: [0, 98], countTicks: [0, 50] },
    { label: labels[3], domain: r4Domain, ticks: r4Ticks, levels: r4Levels, steps: r4Steps, grey: r4Grey, noise: r4Noise, noiseHalf: r4NoiseHalf, noiseUnit: 20, binStart: 1050, binWidth: 20, counts: r4Counts, comps: r4Comps, countDomain: [0, 105], countTicks: [0, 50, 100] },
    { label: labels[4], domain: r5Domain, ticks: r5Ticks, levels: r5Levels, steps: r5Steps, grey: r5Grey, noise: r5Noise, noiseHalf: r5NoiseHalf, noiseUnit: 18, binStart: 890, binWidth: 20, counts: r5Counts, comps: r5Comps, countDomain: [0, 105], countTicks: [0, 50, 100] },
    { label: labels[5], domain: r6Domain, ticks: r6Ticks, levels: r6Levels, steps: r6Steps, grey: r6Grey, noise: r6Noise, noiseHalf: r6NoiseHalf, noiseUnit: 18, binStart: 890, binWidth: 20, counts: r6Counts, comps: r6Comps, countDomain: [0, 105], countTicks: [0, 50, 100] },
]

// page layout (px)
const rowTops = [0, 108, 216, 324, 432, 540]
const plotTops = [9.4, 115, 222.6, 330.9, 438.4, 546.4]
const axisYs = [89.1, 197.7, 305.8, 412.9, 521.9, 630]
const TRACE_W = 716
const TRACE_RIGHT = 704.7
const TRACE_LEFT_AXIS = 40.7
const HIST_LEFT = 713
const HIST_W = 95

const tickStyle = { fontSize: 10, fill: INK, fontFamily: FONT }

function levelAt(row: Row, t: number) {
    let k = row.steps[0][1]
    for (const [s, idx] of row.steps) {
        if (s <= t) k = idx
        else break
    }
    return row.levels[k]
}

function TraceRow({ row, i }: { row: Row; i: number }) {
    const last = i === rows.length - 1
    const height = last ? 658 - rowTops[i] : 108
    const axisH = height - (axisYs[i] - rowTops[i])
    const grey = row.grey.map((v, k) => ({ t: k * 0.5, v }))
    const green: { t: number; v: number }[] = []
    for (let k = 0; k < row.noise.length && 5 + k <= 300; k++) {
        const t = 5 + k
        green.push({ t, v: levelAt(row, t) + row.noise[k] * row.noiseUnit })
        if (t + 0.5 < 300 && k < row.noiseHalf.length) {
            green.push({ t: t + 0.5, v: levelAt(row, t + 0.5) + row.noiseHalf[k] * row.noiseUnit })
        }
    }
    const ideal = row.steps.map(([t, idx]) => ({ t, v: row.levels[idx] }))
    return (
        <div style={{ position: "absolute", left: 0, top: rowTops[i], width: TRACE_W, height }}>
            <ComposedChart
                width={TRACE_W}
                height={height}
                margin={{ top: plotTops[i] - rowTops[i], right: TRACE_W - TRACE_RIGHT, bottom: 0, left: 0 }}
            >
                <XAxis
                    type="number"
                    dataKey="t"
                    domain={[0, 300]}
                    ticks={timeTicks}
                    interval={0}
                    allowDataOverflow
                    height={axisH}
                    tickSize={-6}
                    tickMargin={12}
                    stroke={INK}
                    tick={tickStyle}
                    label={last ? { value: "Time (s)", position: "insideBottom", offset: 2, style: { fontSize: 11, fill: INK, fontFamily: FONT } } : undefined}
                />
                <YAxis
                    type="number"
                    domain={row.domain}
                    ticks={row.ticks}
                    interval={0}
                    allowDataOverflow
                    width={TRACE_LEFT_AXIS}
                    tickSize={-5}
                    tickMargin={9}
                    stroke={INK}
                    tick={tickStyle}
                    label={{ value: "Intensity (au)", angle: -90, position: "insideLeft", offset: 11, style: { textAnchor: "middle", fontSize: 11.5, fill: INK, fontFamily: FONT } }}
                />
                <Line data={grey} dataKey="v" stroke={GREY} strokeWidth={1} dot={false} isAnimationActive={false} />
                <Line data={green} dataKey="v" stroke={GREEN} strokeWidth={1.15} dot={false} isAnimationActive={false} />
                <Line data={ideal} dataKey="v" type="stepAfter" stroke={INK} strokeWidth={1.1} dot={false} isAnimationActive={false} />
            </ComposedChart>
        </div>
    )
}

function HistRow({ row, i }: { row: Row; i: number }) {
    const last = i === rows.length - 1
    const height = last ? 658 - rowTops[i] : 108
    const axisH = height - (axisYs[i] - rowTops[i])
    const w = row.binWidth
    const bars = row.counts.map((c, k) => ({ v: row.binStart - w / 2 + k * w, c }))
    bars.push({ v: row.binStart - w / 2 + row.counts.length * w, c: 0 })
    const fit = row.counts
        .map((_, k) => {
            const p: Record<string, number> = { v: row.binStart + k * w, fit: 0 }
            row.comps.forEach((arr, j) => {
                p["g" + j] = arr[k]
                p.fit += arr[k]
            })
            return p
        })
        .reverse()
    return (
        <div style={{ position: "absolute", left: HIST_LEFT, top: rowTops[i], width: HIST_W, height }}>
            <ComposedChart
                layout="vertical"
                width={HIST_W}
                height={height}
                margin={{ top: plotTops[i] - rowTops[i], right: 9, bottom: 0, left: 723.3 - HIST_LEFT }}
            >
                <XAxis
                    type="number"
                    domain={row.countDomain}
                    ticks={row.countTicks}
                    interval={0}
                    allowDataOverflow
                    height={axisH}
                    tickSize={-5}
                    tickMargin={12}
                    stroke={INK}
                    tick={tickStyle}
                    label={last ? { value: "Counts", position: "insideBottom", offset: 2, style: { fontSize: 11, fill: INK, fontFamily: FONT } } : undefined}
                />
                <YAxis type="number" dataKey="v" domain={row.domain} reversed allowDataOverflow width={0} tick={false} tickLine={false} stroke={INK} />
                <Area data={bars} dataKey="c" type="stepBefore" fill={BAR_GREEN} fillOpacity={1} stroke="none" isAnimationActive={false} />
                <Area data={fit} dataKey="fit" type="monotone" fill={FIT_GREEN} fillOpacity={0.92} stroke={INK} strokeWidth={1.2} isAnimationActive={false} />
                {row.comps.map((_, j) => (
                    <Line key={j} data={fit} dataKey={"g" + j} type="monotone" stroke={COMP_LINE} strokeWidth={0.7} dot={false} isAnimationActive={false} />
                ))}
            </ComposedChart>
        </div>
    )
}

export default function App() {
    return (
        <div style={{ position: "absolute", left: 0, top: 0, width: 808, height: 658, background: "#fff", fontFamily: FONT }}>
            {rows.map((row, i) => (
                <TraceRow key={"t" + i} row={row} i={i} />
            ))}
            {rows.map((row, i) => (
                <HistRow key={"h" + i} row={row} i={i} />
            ))}
            {rows.map((row, i) => (
                <div
                    key={"l" + i}
                    style={{
                        position: "absolute",
                        left: 49,
                        top: rowTops[i] + (i === 0 ? 2 : 3),
                        width: 56,
                        height: 17,
                        boxSizing: "border-box",
                        border: "1px solid #222",
                        background: "#fff",
                        fontSize: 12,
                        lineHeight: "15px",
                        textAlign: "center",
                        color: INK,
                    }}
                >
                    {row.label}
                </div>
            ))}
        </div>
    )
}
